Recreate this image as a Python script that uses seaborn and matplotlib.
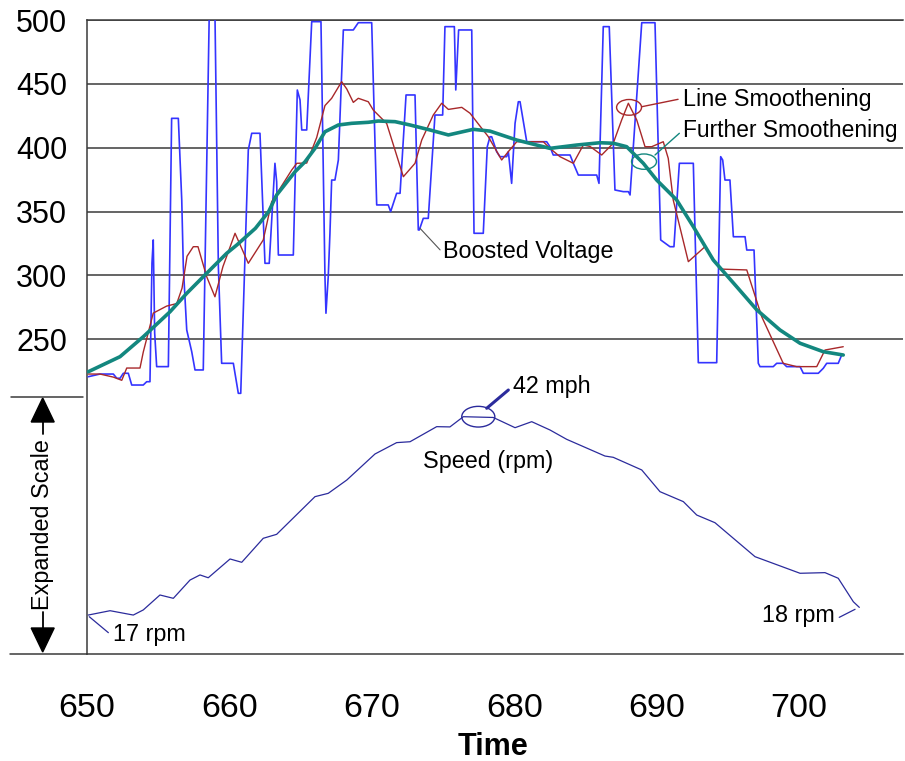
import matplotlib
matplotlib.use("Agg")
import matplotlib.pyplot as plt
from matplotlib.patches import Ellipse, Polygon
from matplotlib.lines import Line2D
import seaborn as sns
import pandas as pd

# ---------------- data ----------------
boost_time = [
    650.11, 650.93, 651.87, 652.11, 652.34, 652.57, 652.92, 653.16, 653.97, 654.21,
    654.44, 654.58, 654.67, 654.77, 654.91, 655.73, 655.96, 656.43, 656.67, 656.78,
    657.02, 657.37, 657.60, 658.18, 658.60, 659.00, 659.24, 659.47, 660.29, 660.64,
    660.81, 661.34, 661.58, 662.16, 662.51, 662.81, 663.21, 663.33, 663.45, 664.50,
    664.78, 664.97, 665.09, 665.44, 665.79, 666.44, 666.72, 666.79, 666.95, 667.07,
    667.19, 667.42, 667.66, 668.01, 668.71, 669.06, 670.00, 670.35, 671.16, 671.33,
    671.75, 671.99, 672.41, 673.04, 673.27, 673.34, 673.62, 673.97, 674.44, 674.98,
    675.14, 675.80, 675.90, 676.10, 677.02, 677.18, 677.83, 678.11, 678.30, 678.42,
    678.77, 679.00, 679.47, 679.59, 679.82, 680.06, 680.29, 680.41, 680.88, 682.28,
    682.51, 682.74, 683.92, 684.15, 684.50, 685.79, 685.95, 686.25, 686.67, 687.07,
    687.66, 688.01, 688.13, 688.95, 689.88, 690.28, 690.93, 691.21, 691.59, 692.57,
    692.92, 694.21, 694.49, 694.63, 694.79, 695.14, 695.38, 696.20, 696.32, 696.83,
    697.13, 697.25, 698.18, 698.42, 698.88, 699.12, 700.06, 700.29, 701.34, 701.69,
    701.93, 702.74, 702.98]
boost_volts = [
    220.7, 222.8, 222.8, 219.5, 219.5, 223.4, 223.4, 214.2, 214.2, 216.8,
    216.8, 309.7, 327.8, 254.9, 228.6, 228.6, 423.0, 423.0, 359.0, 306.8,
    257.3, 240.3, 226.0, 226.0, 505.0, 505.0, 306.8, 231.2, 231.2, 207.7,
    207.7, 398.2, 411.3, 411.3, 309.5, 309.5, 387.8, 373.4, 316.0, 316.0,
    445.2, 437.4, 413.9, 413.9, 498.7, 498.7, 299.0, 270.4, 299.0, 333.0,
    374.7, 374.7, 390.4, 492.2, 492.2, 497.9, 497.9, 355.2, 355.2, 350.0,
    364.3, 364.3, 441.3, 441.3, 335.6, 335.6, 344.7, 344.7, 425.6, 425.6,
    494.8, 494.8, 445.2, 492.2, 492.2, 333.0, 333.0, 400.8, 408.6, 408.6,
    396.9, 393.0, 393.0, 396.9, 372.1, 419.1, 436.0, 436.0, 404.7, 404.7,
    400.8, 394.3, 394.3, 387.8, 378.6, 378.6, 372.1, 494.8, 494.8, 366.9,
    365.6, 365.6, 363.0, 497.9, 497.9, 327.8, 322.5, 322.5, 387.8, 387.8,
    231.7, 231.7, 393.0, 390.4, 374.7, 374.7, 330.3, 330.3, 319.9, 319.9,
    231.2, 228.6, 228.6, 231.2, 231.2, 228.6, 228.6, 223.4, 223.4, 227.3,
    231.2, 231.2, 237.7]

smooth_time = [
    650.11, 650.93, 651.87, 652.46, 652.81, 653.74, 653.97, 654.67, 655.61, 656.32,
    656.69, 657.04, 657.48, 657.81, 658.42, 659.00, 659.56, 660.41, 661.34, 662.39,
    662.98, 664.39, 664.74, 665.44, 666.14, 666.72, 667.19, 667.89, 668.25, 668.71,
    669.06, 669.76, 670.11, 671.05, 671.64, 672.22, 673.04, 673.51, 674.32, 674.91,
    675.38, 676.32, 676.90, 677.72, 678.18, 679.12, 679.59, 680.18, 682.04, 682.51,
    683.21, 684.15, 684.85, 685.32, 686.14, 686.95, 687.54, 688.01, 688.60, 689.18,
    689.65, 690.46, 690.81, 691.16, 692.22, 693.39, 694.44, 696.32, 697.37, 698.88,
    699.82, 701.23, 701.81, 703.09]
smooth_volts = [
    222.8, 222.8, 220.4, 217.9, 227.5, 227.5, 240.0, 270.5, 276.0, 278.0,
    290.0, 315.0, 322.5, 322.5, 299.0, 283.3, 306.9, 333.0, 309.5, 327.8,
    357.7, 382.6, 387.8, 388.0, 408.0, 433.0, 438.7, 451.7, 446.0, 435.5,
    438.7, 436.0, 429.5, 419.0, 398.0, 377.3, 387.8, 406.0, 425.6, 434.8,
    430.0, 431.6, 427.0, 415.2, 408.7, 390.4, 397.0, 404.7, 404.7, 399.5,
    393.0, 387.8, 402.1, 401.0, 394.3, 403.5, 421.7, 434.8, 421.7, 400.8,
    400.8, 404.7, 391.7, 359.1, 310.8, 322.5, 305.0, 304.3, 267.7, 231.2,
    228.6, 228.6, 241.6, 244.2]

further_time = [
    650.11, 652.34, 653.97, 655.85, 657.02, 658.42, 659.82, 660.53, 661.84, 662.77,
    663.33, 664.62, 665.32, 666.02, 666.72, 667.66, 668.59, 669.76, 670.46, 671.64,
    672.69, 674.09, 675.38, 677.13, 678.30, 680.18, 682.51, 684.39, 686.02, 686.95,
    687.89, 689.06, 690.00, 691.40, 692.57, 693.97, 695.61, 697.02, 698.65, 700.06,
    701.69, 703.09]
further_volts = [
    224.6, 236.4, 252.0, 271.6, 286.0, 301.7, 317.3, 323.8, 336.9, 350.0,
    363.0, 381.2, 389.0, 399.5, 412.5, 417.8, 419.1, 419.9, 420.9, 420.4,
    417.8, 413.9, 410.0, 414.4, 413.0, 406.0, 399.5, 402.1, 403.9, 403.5,
    400.8, 387.8, 374.7, 359.1, 338.2, 312.1, 291.2, 273.1, 257.3, 246.9,
    240.3, 237.7]

# speed trace, drawn on the expanded scale (axis units)
speed_time = [
    650.11, 651.64, 653.27, 653.97, 655.14, 656.08, 657.25, 657.95, 658.53, 660.06,
    660.88, 662.39, 663.33, 666.02, 666.95, 668.25, 670.23, 671.75, 672.69, 674.56,
    675.49, 676.43, 678.53, 680.06, 681.23, 682.51, 683.68, 686.37, 686.95, 688.95,
    690.23, 691.87, 692.81, 694.09, 696.90, 700.06, 701.81, 702.74, 703.80, 704.22]
speed_trace = [
    34.1, 37.5, 34.1, 38.1, 49.8, 47.2, 61.5, 65.5, 63.3, 78.0,
    75.4, 94.2, 97.3, 126.8, 129.4, 139.8, 160.2, 169.1, 169.8, 181.6,
    181.4, 189.4, 188.8, 180.8, 185.5, 179.0, 171.7, 158.6, 157.6, 147.7,
    130.7, 122.9, 112.4, 106.4, 79.8, 66.8, 67.3, 62.9, 44.5, 40.1]

x_ticks = [650, 660, 670, 680, 690, 700]
y_ticks = [250, 300, 350, 400, 450, 500]

# ---------------- style ----------------
sns.set_style("white")
plt.rcParams["font.family"] = ["Liberation Sans", "DejaVu Sans"]
plt.rcParams["text.color"] = "black"
plt.rcParams["xtick.labelcolor"] = "black"
plt.rcParams["ytick.labelcolor"] = "black"

GRID = "#3a3a3a"
BLUE = "#3434ff"
RED = "#a8282a"
TEAL = "#13877f"
NAVY = "#2b2b9c"

W_PX, H_PX = 905, 761
fig = plt.figure(figsize=(W_PX / 100, H_PX / 100), dpi=100)
ax = fig.add_axes([86.7 / W_PX, 1 - 654 / H_PX, (903 - 86.7) / W_PX, (654 - 20) / H_PX])


def fx(px):
    return px / W_PX


def fy(py):
    return 1 - py / H_PX


df_boost = pd.DataFrame({"t": boost_time, "v": boost_volts})
df_smooth = pd.DataFrame({"t": smooth_time, "v": smooth_volts})
df_further = pd.DataFrame({"t": further_time, "v": further_volts})
df_speed = pd.DataFrame({"t": speed_time, "v": speed_trace})

sns.lineplot(data=df_boost, x="t", y="v", ax=ax, color=BLUE, lw=1.2,
             estimator=None, sort=False, zorder=3)
sns.lineplot(data=df_smooth, x="t", y="v", ax=ax, color=RED, lw=1.0,
             estimator=None, sort=False, zorder=4)
sns.lineplot(data=df_further, x="t", y="v", ax=ax, color=TEAL, lw=2.6,
             estimator=None, sort=False, zorder=5)
sns.lineplot(data=df_speed, x="t", y="v", ax=ax, color=NAVY, lw=0.9,
             estimator=None, sort=False, zorder=3)

ax.set_xlim(650, 650 + (903 - 86.7) / 14.25)
ax.set_ylim(500 - 634 / 1.2772, 500)
ax.set_xticks(x_ticks)
ax.set_yticks(y_ticks)
ax.set_xticklabels([str(t) for t in x_ticks])
ax.set_yticklabels([str(t) for t in y_ticks])
ax.set_xlabel("")
ax.set_ylabel("")
ax.grid(True, axis="y", color=GRID, lw=1.1)
ax.grid(False, axis="x")
ax.tick_params(axis="y", direction="out", length=7.5, width=1.1, color=GRID,
               labelsize=22, pad=6.5, labelcolor="black")
ax.tick_params(axis="x", direction="out", length=8, width=1.1, color=GRID,
               labelsize=24.5, pad=20, labelcolor="black")
for side in ["left", "bottom", "top"]:
    ax.spines[side].set_color(GRID)
    ax.spines[side].set_linewidth(1.1)
ax.spines["right"].set_visible(False)

# ---------------- annotations ----------------
TXT = 16.8
# Boosted Voltage
ax.plot([673.39, 674.8], [336.9, 320.0], color="#555555", lw=0.8, zorder=6)
ax.text(675.0, 318.4, "Boosted Voltage", fontsize=TXT, ha="left", va="center", zorder=7)
# Line Smoothening
ax.add_patch(Ellipse((688.06, 431.6), 1.75, 12.3, fill=False, ec=RED, lw=1.0, zorder=6))
ax.plot([688.95, 691.5], [432.1, 437.9], color=RED, lw=1.0, zorder=6)
ax.text(691.85, 438.1, "Line Smoothening", fontsize=TXT, ha="left", va="center", zorder=7)
# Further Smoothening
ax.add_patch(Ellipse((689.11, 389.1), 1.75, 12.0, fill=False, ec=TEAL, lw=1.0, zorder=6))
ax.plot([689.88, 691.59], [394.3, 411.3], color=TEAL, lw=1.0, zorder=6)
ax.text(691.85, 413.3, "Further Smoothening", fontsize=16.4, ha="left", va="center", zorder=7)
# 42 mph
ax.add_patch(Ellipse((677.48, 189.4), 2.32, 16.2, fill=False, ec=NAVY, lw=1.0, zorder=6))
ax.plot([678.07, 679.59], [196.0, 210.3], color=NAVY, lw=2.2, zorder=6)
ax.text(679.9, 213.4, "42 mph", fontsize=TXT, ha="left", va="center", zorder=7)
# Speed label
ax.text(673.6, 154.0, "Speed (rpm)", fontsize=TXT, ha="left", va="center", zorder=7)
# 17 rpm
ax.plot([650.18, 651.52], [32.8, 20.3], color=NAVY, lw=0.9, zorder=6)
ax.text(651.87, 18.5, "17 rpm", fontsize=TXT, ha="left", va="center", zorder=7)
# 18 rpm
ax.plot([702.81, 703.92], [32.3, 38.6], color=NAVY, lw=0.9, zorder=6)
ax.text(702.51, 33.6, "18 rpm", fontsize=TXT, ha="right", va="center", zorder=7)

# ---------------- outside-axes decorations (figure coords) ----------------
fig.add_artist(Line2D([fx(11), fx(83)], [fy(396.7), fy(396.7)], color=GRID, lw=1.1))
fig.add_artist(Line2D([fx(10), fx(87)], [fy(654), fy(654)], color=GRID, lw=1.1))
ax_x = 42.7
fig.add_artist(Line2D([fx(ax_x), fx(ax_x)], [fy(421), fy(434)], color="black", lw=1.3))
fig.add_artist(Line2D([fx(ax_x), fx(ax_x)], [fy(612), fy(629)], color="black", lw=1.3))
fig.add_artist(Polygon([[fx(ax_x), fy(398)], [fx(ax_x - 11.5), fy(422)], [fx(ax_x + 11.5), fy(422)]],
                       closed=True, color="black", transform=fig.transFigure))
fig.add_artist(Polygon([[fx(ax_x), fy(652)], [fx(ax_x - 11.5), fy(628)], [fx(ax_x + 11.5), fy(628)]],
                       closed=True, color="black", transform=fig.transFigure))
fig.text(fx(ax_x), fy(525), "Expanded Scale", fontsize=TXT, rotation=90,
         ha="center", va="center", color="black")

fig.text(fx(492.5), fy(755), "Time", fontsize=22, fontweight="bold",
         ha="center", va="baseline", color="black")

fig.savefig("out.png", dpi=100)
